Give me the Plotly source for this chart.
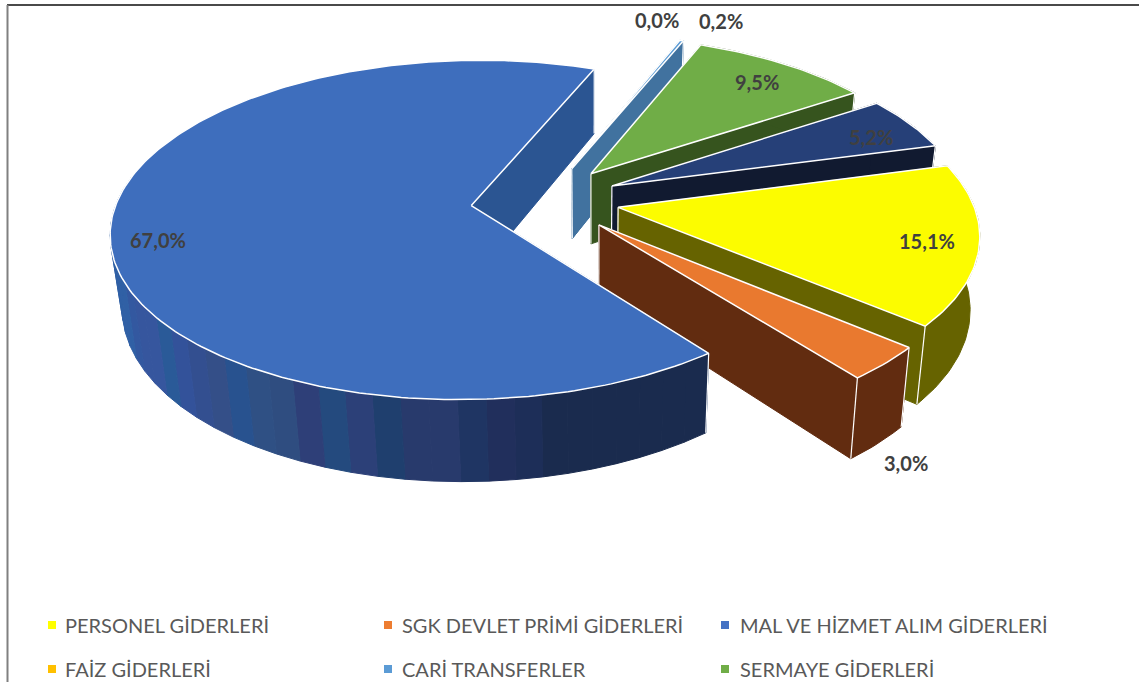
import math
import plotly.graph_objects as go

# ---- data ----
categories = ["PERSONEL GİDERLERİ", "SGK DEVLET PRİMİ GİDERLERİ", "MAL VE HİZMET ALIM GİDERLERİ",
              "FAİZ GİDERLERİ", "CARİ TRANSFERLER", "SERMAYE GİDERLERİ", "SERMAYE TRANSFERLERİ"]
values = [15.1, 3.0, 67.0, 0.0, 0.2, 9.5, 5.2]
labels = ["15,1%", "3,0%", "67,0%", "0,0%", "0,2%", "9,5%", "5,2%"]

# ---- style ----
top_colors = ["#fcfc00", "#e9792f", "#3e6ebd", "#ffc000", "#5b9bd5", "#70ad47", "#264078"]
wall_colors = ["#666300", "#622c10", "#2b5592", "#7f6000", "#41729f", "#36541e", "#111a30"]
legend_colors = ["#ffff00", "#ed7d31", "#4472c4", "#ffc000", "#5b9bd5", "#70ad47"]
blue_rim_shades = ["#1a2b4e"] * 7 + ["#1d2e58", "#212f5c", "#1f3563", "#283a6c", "#283a6c", "#1f3f6e",
                   "#2c4078", "#244a7e", "#2e3f78", "#2f4d80", "#2f5084", "#28528f", "#344f88", "#334f90",
                   "#33529a", "#2a5a98", "#36569e", "#36569e", "#3358a0"] + ["#3060a5"] * 9
label_shift_x = [-53, 21, 48, -22, 39, -27, -38]
label_shift_y = [-3, 100, 7, -20, -20, 18, 14]
draw_order = [3, 4, 5, 6, 0, 1, 2]

START = 75.0          # first slice angle, clockwise from 12 o'clock
EXPLODE = 0.21
CX, CY, A, B, K = 545.0, 200.0, 354.0, 164.6, 1 / 7
VX, SX, YT, YD, SY = 592.0, 0.975, 173.0, 243.0, 1.053


def project(u, v):
    w = 1 - K * v
    return CX + A * u / w, CY + B * v / w


def drop(p):
    return VX + SX * (p[0] - VX), YD + SY * (p[1] - YT)


def rim_point(a, ox, oy):
    b = a % 360
    b += 2.0 * math.exp(-((b - 145.0) / 18.0) ** 2)   # small lens correction on the near right
    r = math.radians(b)
    return project(ox + math.sin(r), oy - math.cos(r))


def poly(points, fill, line=None, width=1.0):
    return go.Scatter(x=[p[0] for p in points] + [points[0][0]],
                      y=[p[1] for p in points] + [points[0][1]],
                      mode="lines", fill="toself", fillcolor=fill,
                      line=dict(color=line or fill, width=width),
                      hoverinfo="skip", showlegend=False)


def arc(a0, a1, ox, oy):
    n = max(2, int(abs(a1 - a0) / 1.0) + 2)
    return [rim_point(a0 + (a1 - a0) * i / (n - 1), ox, oy) for i in range(n)]


fig = go.Figure()
angles = []
a = START
for val in values:
    angles.append((a, a + val * 3.6))
    a += val * 3.6

annots = []
for i in draw_order:
    a0, a1 = angles[i]
    mid = math.radians((a0 + a1) / 2)
    ox, oy = EXPLODE * math.sin(mid), -EXPLODE * math.cos(mid)
    apex = project(ox, oy)
    if values[i] > 0:
        rim = arc(a0, a1, ox, oy)
        # radial walls
        for end in (rim[0], rim[-1]):
            fig.add_trace(poly([apex, end, drop(end), drop(apex)], wall_colors[i]))
        # outer wall
        if i == 2:
            step = 4.0
            for j, c in enumerate(blue_rim_shades):
                seg = arc(a0 + step * j, a0 + step * (j + 1), ox, oy)
                fig.add_trace(poly(seg + [drop(p) for p in reversed(seg)], c))
        else:
            fig.add_trace(poly(rim + [drop(p) for p in reversed(rim)], wall_colors[i]))
        # white vertical edges (the start edge is hidden when it lies on the far side)
        edges = [apex, rim[-1]] if a0 % 360 < 90 else [apex, rim[0], rim[-1]]
        for p in edges:
            q = drop(p)
            fig.add_trace(go.Scatter(x=[p[0], q[0]], y=[p[1], q[1]], mode="lines",
                                     line=dict(color="white", width=1.2),
                                     hoverinfo="skip", showlegend=False))
        # top face
        fig.add_trace(poly([apex] + rim, top_colors[i], "white", 1.5))
    lx, ly = rim_point((a0 + a1) / 2, ox, oy)
    annots.append(dict(x=lx, y=ly, xref="x", yref="y", text=labels[i], showarrow=False,
                       xshift=label_shift_x[i], yshift=-label_shift_y[i],
                       font=dict(family="Lato", size=20, color="#404040", weight="bold")))

# legend rows (the third row is cut off in the picture)
LEG_COLS = [52, 388, 725]
LEG_TEXT = [63, 400, 738]
LEG_ROWS = [625, 669]
for k in range(6):
    x0 = LEG_COLS[k % 3]
    y0 = LEG_ROWS[k // 3]
    fig.add_trace(go.Scatter(x=[x0], y=[y0], mode="markers", hoverinfo="skip", showlegend=False,
                             marker=dict(symbol="square", size=8, color=legend_colors[k])))
    annots.append(dict(x=LEG_TEXT[k % 3], y=y0, xref="x", yref="y", text=categories[k], showarrow=False,
                       xanchor="left", font=dict(family="Lato", size=20, color="#595959")))

fig.update_layout(
    width=1139, height=682, margin=dict(l=0, r=0, t=0, b=0),
    paper_bgcolor="white", plot_bgcolor="white", showlegend=False,
    xaxis=dict(range=[0, 1139], visible=False, fixedrange=True),
    yaxis=dict(range=[682, 0], visible=False, fixedrange=True),
    annotations=annots,
    shapes=[dict(type="line", xref="x", yref="y", x0=7, x1=1139, y0=5, y1=5,
                 line=dict(color="#4a4a4a", width=2)),
            dict(type="line", xref="x", yref="y", x0=7.5, x1=7.5, y0=5, y1=682,
                 line=dict(color="#808080", width=2))],
)
fig.write_html("out.html", config={"displayModeBar": False},
               post_script="document.body.style.margin='0';")
